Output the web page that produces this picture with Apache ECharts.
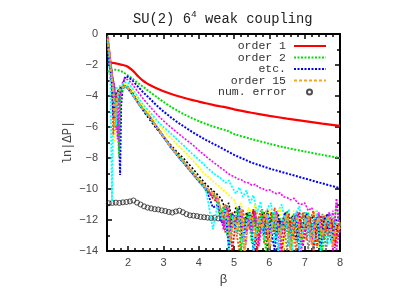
<!DOCTYPE html>
<html><head><meta charset="utf-8">
<script src="https://cdn.jsdelivr.net/npm/echarts@6/dist/echarts.min.js"></script>
<style>html,body{margin:0;padding:0;background:#fff}#c{width:415px;height:291px}</style>
</head><body><div id="c"></div>
<script>
// ---- x grids ----
const betaLow = [1.42,1.46,1.5,1.54,1.58,1.62,1.66,1.7,1.74,1.77,1.8,1.85,1.9,1.95,2.0,2.1,2.2,2.3,2.4,2.5,2.6,2.8,3.0,3.2,3.4,3.6,3.8,4.0,4.2,4.4];
const betaTail = [4.6,4.8,5.0,5.5,6.0,6.5,7.0,7.5,8.0];
const betaNoiseA = [4.5,4.6,4.7,4.8,4.9,5.0,5.1,5.2,5.3,5.4,5.5,5.6,5.7,5.8,5.9,6.0,6.1,6.2,6.3,6.4,6.5,6.6,6.7,6.8,6.9,7.0,7.1,7.2,7.3,7.4,7.5,7.6,7.7,7.8,7.9,8.0];
const betaNoiseB = [4.55,4.65,4.75,4.85,4.95,5.05,5.15,5.25,5.35,5.45,5.55,5.65,5.75,5.85,5.95,6.05,6.15,6.25,6.35,6.45,6.55,6.65,6.75,6.85,6.95,7.05,7.15,7.25,7.35,7.45,7.55,7.65,7.75,7.85,7.95];
const betaErr = [1.45,1.55,1.65,1.75,1.85,1.95,2.05,2.15,2.25,2.35,2.45,2.55,2.65,2.75,2.85,2.95,3.05,3.15,3.25,3.35,3.45,3.55,3.65,3.75,3.85,3.95,4.05,4.15,4.25,4.35,4.45,4.55,4.65,4.75,4.85,4.95,5.05,5.15,5.25,5.35,5.45,5.55,5.65,5.75,5.85,5.95,6.05,6.15,6.25,6.35,6.45,6.55,6.65,6.75,6.85,6.95,7.05,7.15,7.25,7.35,7.45,7.55,7.65,7.75,7.85,7.95];

// ---- tick values ----
const xMajor = [2,3,4,5,6,7,8];
const xMinor = [1.6,1.8,2.2,2.4,2.6,2.8,3.2,3.4,3.6,3.8,4.2,4.4,4.6,4.8,5.2,5.4,5.6,5.8,6.2,6.4,6.6,6.8,7.2,7.4,7.6,7.8];

// ---- ln|dP| per order ----
const ord1 = [-1.8,-1.83,-1.85,-1.86,-1.87,-1.88,-1.9,-1.92,-1.94,-1.96,-1.98,-2.0,-2.03,-2.07,-2.13,-2.3,-2.53,-2.77,-2.97,-3.14,-3.28,-3.5,-3.7,-3.86,-4.0,-4.13,-4.25,-4.36,-4.47,-4.57];
const ord1Tail = [-4.66,-4.75,-4.86,-5.08,-5.28,-5.46,-5.62,-5.78,-5.93];
const ord2 = [-2.45,-2.4,-2.36,-2.33,-2.31,-2.3,-2.3,-2.32,-2.35,-2.37,-2.4,-2.46,-2.53,-2.6,-2.68,-2.85,-3.02,-3.2,-3.37,-3.54,-3.72,-4.05,-4.38,-4.68,-4.95,-5.2,-5.42,-5.62,-5.8,-5.96];
const ord2Tail = [-6.1,-6.24,-6.45,-6.78,-7.08,-7.35,-7.58,-7.8,-8.0];
const ord3 = [-1.4,-1.9,-2.3,-2.7,-3.1,-3.6,-4.2,-5.0,-6.4,-9.1,-4.6,-3.3,-2.85,-2.72,-2.75,-2.95,-3.2,-3.45,-3.7,-3.92,-4.14,-4.6,-5.0,-5.36,-5.7,-6.0,-6.3,-6.57,-6.83,-7.07];
const ord3Tail = [-7.3,-7.55,-7.8,-8.3,-8.68,-9.0,-9.32,-9.64,-9.95];
const ord4 = [-0.8,-1.5,-2.0,-2.5,-3.0,-3.5,-4.1,-5.0,-7.5,-4.2,-3.5,-3.05,-2.9,-2.88,-2.95,-3.2,-3.5,-3.8,-4.1,-4.38,-4.65,-5.15,-5.6,-6.0,-6.38,-6.75,-7.1,-7.5,-7.9,-8.25];
const ord4Tail = [-8.42,-8.6,-8.75,-8.95,-9.1,-9.2,-9.35,-9.4,-9.55,-9.6,-9.75,-9.7,-9.9,-9.95,-10.1,-10.05,-10.2,-10.3,-10.25,-10.5,-10.55,-10.7,-10.6,-10.9,-11.0,-10.9,-11.4,-11.2,-12.0,-11.5,-13.2,-11.8,-12.5,-11.4,-14,-12.2];
const ord5 = [-0.5,-1.8,-3.5,-10.8,-4.2,-3.7,-3.5,-3.45,-3.4,-3.35,-3.3,-3.2,-3.12,-3.1,-3.15,-3.45,-3.8,-4.15,-4.5,-4.75,-5.0,-5.55,-6.0,-6.4,-6.85,-7.25,-7.7,-8.1,-8.55,-8.95];
const ord5Tail = [-9.2,-9.35,-9.6,-9.45,-9.9,-10.3,-9.9,-10.5,-10.1,-10.9,-10.4,-11.6,-10.8,-12.8,-11.2,-10.9,-13.5,-11.4,-11.0,-12.2,-11.3,-14,-11.6,-11.1,-12.9,-11.5,-11.8,-14,-11.4,-12.4,-11.7,-13.6,-11.6,-12.3,-11.9];
const ord6 = [-0.3,-1.2,-2.0,-2.8,-3.8,-7.0,-4.5,-3.9,-3.6,-3.45,-3.35,-3.25,-3.2,-3.22,-3.3,-3.6,-3.95,-4.3,-4.62,-4.9,-5.15,-5.7,-6.2,-6.7,-7.15,-7.6,-8.05,-8.6,-9.1,-9.5];
const ord6Tail = [-9.7,-9.85,-10.1,-10.3,-10.5,-10.7,-11.3,-10.9,-12.5,-11.2,-11.6,-11.0,-13.2,-11.4,-11.9,-11.3,-12.8,-11.6,-11.2,-14,-11.7,-12.1,-11.4,-13.0,-11.8,-11.5,-12.6,-11.9,-11.4,-13.8,-12.0,-11.6,-12.4,-11.8,-13.1,-12.1];
const ord7 = [-0.5,-1.4,-2.2,-3.0,-3.9,-4.8,-6.0,-4.6,-3.95,-3.7,-3.55,-3.4,-3.32,-3.32,-3.4,-3.72,-4.1,-4.48,-4.85,-5.2,-5.5,-6.1,-6.65,-7.15,-7.65,-8.1,-8.6,-9.15,-9.7,-10.1];
const ord7Tail = [-10.4,-10.7,-11.3,-10.9,-12.2,-11.2,-11.6,-13.4,-11.5,-11.9,-11.4,-12.6,-11.8,-11.5,-14,-11.9,-12.2,-11.6,-12.9,-11.8,-12.3,-11.7,-13.3,-12.0,-11.8,-12.5,-12.1,-11.7,-13.7,-12.2,-11.9,-12.6,-12.0,-12.9,-12.2];
const ord8 = [-0.2,-1.0,-2.0,-3.2,-6.5,-4.6,-4.0,-3.75,-3.6,-3.52,-3.46,-3.4,-3.38,-3.4,-3.48,-3.82,-4.17,-4.5,-4.8,-5.08,-5.33,-5.97,-6.62,-7.27,-7.82,-8.35,-8.9,-9.45,-9.95,-10.2];
const ord8Tail = [-10.6,-11.8,-11.0,-13.2,-11.5,-12.6,-14,-11.3,-12.9,-11.7,-14,-12.2,-11.4,-13.5,-11.9,-12.8,-11.2,-14,-12.4,-11.6,-13.1,-11.8,-14,-12.5,-11.5,-13.3,-12.0,-11.4,-13.8,-12.3,-11.7,-13.0,-11.9,-13.6,-12.2];
const ord9 = [-0.1,-0.9,-1.7,-2.5,-3.3,-4.2,-6.2,-4.4,-3.85,-3.65,-3.55,-3.45,-3.4,-3.41,-3.5,-3.85,-4.2,-4.53,-4.83,-5.1,-5.35,-6.0,-6.65,-7.3,-7.85,-8.4,-8.95,-9.5,-10.05,-10.5];
const ord9Tail = [-10.5,-11.2,-12.4,-11.0,-13.6,-11.7,-12.9,-11.3,-14,-11.9,-12.5,-11.4,-13.3,-12.1,-11.6,-14,-12.7,-11.5,-13.0,-11.8,-14,-12.3,-11.6,-13.4,-12.0,-11.5,-13.9,-12.2,-11.8,-13.1,-11.6,-14,-12.4,-11.9,-13.2,-12.3];
const ord10 = [-0.3,-1.1,-1.9,-2.7,-3.6,-5.6,-4.3,-3.85,-3.62,-3.52,-3.46,-3.4,-3.37,-3.39,-3.47,-3.8,-4.15,-4.48,-4.78,-5.05,-5.3,-5.95,-6.6,-7.25,-7.8,-8.33,-8.87,-9.4,-9.85,-10.6];
const ord10Tail = [-10.9,-11.5,-12.8,-11.2,-14,-12.0,-11.4,-13.1,-11.8,-12.6,-11.3,-14,-12.3,-11.7,-13.4,-11.5,-12.9,-11.9,-14,-12.4,-11.6,-13.2,-12.1,-11.5,-13.7,-12.2,-11.8,-14,-12.5,-11.7,-13.3,-12.0,-11.9,-13.8,-12.4];
const ord11 = [-0.4,-1.2,-2.0,-2.7,-3.3,-3.9,-4.6,-5.6,-7.9,-4.6,-3.9,-3.55,-3.42,-3.4,-3.46,-3.78,-4.12,-4.45,-4.75,-5.02,-5.28,-5.93,-6.58,-7.23,-7.78,-8.3,-8.83,-9.38,-10.1,-10.3];
const ord11Tail = [-10.7,-11.9,-11.1,-13.0,-11.6,-12.4,-11.2,-14,-12.0,-11.5,-13.5,-11.8,-12.7,-11.3,-14,-12.2,-11.6,-13.2,-11.9,-12.6,-11.4,-14,-12.3,-11.7,-13.6,-12.0,-11.5,-13.0,-12.4,-11.6,-14,-12.1,-11.7,-13.3,-10.9,-12.5];
const ord12 = [-0.6,-1.5,-2.4,-3.3,-5.4,-4.2,-3.85,-3.68,-3.57,-3.5,-3.45,-3.4,-3.38,-3.4,-3.48,-3.83,-4.18,-4.52,-4.82,-5.1,-5.35,-6.0,-6.65,-7.3,-7.87,-8.4,-8.95,-9.5,-9.95,-11.2];
const ord12Tail = [-11.0,-12.2,-11.3,-13.8,-11.6,-12.5,-11.1,-13.3,-12.0,-11.5,-14,-12.6,-11.8,-13.0,-11.4,-12.7,-14,-11.9,-12.3,-11.5,-13.6,-12.1,-11.7,-14,-12.4,-11.6,-13.1,-12.2,-11.8,-13.9,-12.0,-11.6,-13.4,-12.3,-11.8];
const ord13 = [-0.2,-1.0,-1.8,-2.6,-3.3,-4.0,-4.7,-6.8,-4.4,-3.9,-3.65,-3.48,-3.4,-3.4,-3.47,-3.8,-4.16,-4.49,-4.79,-5.07,-5.32,-5.97,-6.62,-7.27,-7.83,-8.35,-8.9,-9.45,-10.0,-10.4];
const ord13Tail = [-10.6,-11.4,-12.6,-11.2,-13.1,-11.8,-12.2,-11.3,-14,-11.9,-12.8,-11.5,-13.7,-12.1,-11.6,-13.0,-12.4,-11.4,-14,-12.0,-11.7,-13.3,-12.2,-11.5,-14,-12.5,-11.8,-13.5,-12.1,-11.6,-13.2,-12.3,-11.5,-14,-10.6,-12.9];
const ord14 = [-0.5,-1.3,-2.1,-2.9,-3.7,-4.5,-5.9,-4.3,-3.8,-3.62,-3.52,-3.44,-3.39,-3.4,-3.48,-3.82,-4.18,-4.51,-4.81,-5.08,-5.34,-5.99,-6.64,-7.29,-7.85,-8.38,-8.92,-9.48,-10.0,-12.6];
const ord14Tail = [-10.8,-12.0,-11.2,-14,-11.7,-12.8,-11.3,-13.4,-12.1,-11.5,-14,-12.4,-11.8,-13.2,-11.6,-12.9,-11.4,-14,-12.2,-11.7,-13.6,-12.0,-11.5,-14,-12.6,-11.9,-13.3,-12.1,-11.6,-14,-12.3,-11.8,-13.5,-12.2,-11.9];
const ord15 = [-0.3,-1.1,-2.0,-2.9,-3.8,-6.0,-4.4,-3.9,-3.66,-3.55,-3.48,-3.41,-3.38,-3.39,-3.46,-3.8,-4.15,-4.48,-4.78,-5.06,-5.31,-5.96,-6.61,-7.26,-7.81,-8.33,-8.88,-9.42,-9.9,-10.3];
const ord15Tail = [-10.5,-11.1,-12.0,-11.5,-13.4,-11.8,-12.7,-11.3,-14,-12.2,-11.6,-13.1,-11.9,-12.5,-11.4,-13.8,-12.1,-11.7,-13.0,-12.4,-11.6,-14,-12.2,-11.8,-13.3,-12.0,-11.7,-13.6,-12.3,-11.9,-13.0,-12.1,-11.8,-13.7,-12.2,-12.6];
const numError = [-10.92,-10.9,-10.88,-10.9,-10.86,-10.84,-10.8,-10.74,-10.88,-11.0,-11.12,-11.2,-11.25,-11.3,-11.32,-11.38,-11.42,-11.48,-11.52,-11.45,-11.4,-11.5,-11.62,-11.7,-11.72,-11.75,-11.8,-11.82,-11.85,-11.88,-11.86,-11.9,-11.93,-11.95,-11.92,-11.98,-12.0,-11.97,-12.05,-12.02,-12.08,-12.1,-12.05,-12.1,-12.15,-12.12,-12.18,-12.15,-12.2,-12.22,-12.25,-12.2,-12.27,-12.3,-12.28,-12.32,-12.3,-12.35,-12.38,-12.33,-12.4,-12.42,-12.38,-12.45,-12.43,-12.48];

function pairs(xs, ys) { return xs.map((x, i) => [x, ys[i]]); }
function join(lowY, tailX, tailY) { return pairs(betaLow, lowY).concat(pairs(tailX, tailY)); }

const RED='#ff0000', GRN='#00e000', BLU='#0000ff', MAG='#ff00ff', CYN='#00ffff', YEL='#ffff00', BLK='#000000', ORR='#ff4d00', GRY='#808080', ORG='#f5a623';
const specs = [
  ['order 1', RED, join(ord1, betaTail, ord1Tail), 'solid', 2.2, 0.3],
  ['order 2', GRN, join(ord2, betaTail, ord2Tail), [2,1.5], 2, 0.3],
  ['etc.', BLU, join(ord3, betaTail, ord3Tail), [2,1.5], 2, false],
  ['order 4', MAG, join(ord4, betaNoiseA, ord4Tail), [2,1.5], 1.6, false],
  ['order 5', CYN, join(ord5, betaNoiseB, ord5Tail), [2,1.5], 1.8, false],
  ['order 6', YEL, join(ord6, betaNoiseA, ord6Tail), [2,1.5], 1.8, false],
  ['order 7', BLK, join(ord7, betaNoiseB, ord7Tail), [2,2], 1.6, false],
  ['order 8', ORR, join(ord8, betaNoiseB, ord8Tail), [2,1.5], 1.8, false],
  ['order 9', GRY, join(ord9, betaNoiseA, ord9Tail), [2,1.5], 1.8, false],
  ['order 10', RED, join(ord10, betaNoiseB, ord10Tail), [2,1.5], 1.8, false],
  ['order 11', GRN, join(ord11, betaNoiseA, ord11Tail), [2,1.5], 1.8, false],
  ['order 12', BLU, join(ord12, betaNoiseB, ord12Tail), [2,1.5], 1.8, false],
  ['order 13', MAG, join(ord13, betaNoiseA, ord13Tail), [2,1.5], 1.8, false],
  ['order 14', CYN, join(ord14, betaNoiseB, ord14Tail), [2,1.5], 1.8, false],
  ['order 15', ORG, join(ord15, betaNoiseA, ord15Tail), [3,2], 2, false]
];

const series = specs.map(s => ({
  name: s[0], type: 'line', data: s[2], showSymbol: false, symbol: 'none', smooth: s[5],
  lineStyle: { color: s[1], type: s[3], width: s[4] }, itemStyle: { color: s[1] },
  clip: true, silent: true
}));
series.push({
  name: 'num. error', type: 'scatter', data: pairs(betaErr, numError), symbol: 'circle', symbolSize: 5,
  itemStyle: { color: 'rgba(255,255,255,0)', borderColor: '#222', borderWidth: 1 }, silent: true
});

const monoFont = 'Liberation Mono';
const sansFont = 'Liberation Sans';
const axisLineStyle = { color: '#000', width: 2 };

function legend(item, top, right, w, h, textPadRight, hideSymbol) {
  const l = {
    data: [item], right: right, top: top, orient: 'vertical', align: 'right', padding: 0,
    itemWidth: w, itemHeight: h, itemGap: 0, selectedMode: false,
    textStyle: { fontFamily: monoFont, fontSize: 11.5, color: '#333', padding: [0, textPadRight, 0, 0] }
  };
  if (hideSymbol) l.itemStyle = { opacity: 0 };
  return l;
}

const chart = echarts.init(document.getElementById('c'), null, { renderer: 'canvas' });
chart.setOption({
  animation: false,
  backgroundColor: '#fff',
  title: {
    text: '{a|SU(2) 6}{s|4}{a| weak coupling}', left: 133, top: 9, padding: 0,
    textStyle: {
      fontWeight: 'normal',
      rich: {
        a: { fontFamily: monoFont, fontSize: 13.8, fontWeight: 'normal', color: '#222', lineHeight: 20 },
        s: { fontFamily: monoFont, fontSize: 9.5, fontWeight: 'normal', color: '#222', lineHeight: 12, verticalAlign: 'top' }
      }
    }
  },
  legend: [
    legend('order 1', 40, 88, 32, 10, 3, true),
    legend('order 2', 51.5, 88, 32, 10, 3, true),
    legend('etc.', 63, 88, 32, 10, 3, true),
    legend('order 15', 74.5, 88, 32, 10, 3, true),
    legend({ name: 'num. error', icon: 'circle' }, 86, 102, 5, 5, 15, false)
  ],
  grid: { left: 107, right: 75, top: 34, bottom: 35 },
  xAxis: [
    { type: 'value', min: 1.4, max: 8, position: 'bottom',
      axisLine: { show: true, onZero: false, lineStyle: axisLineStyle },
      axisTick: { show: true, inside: true, length: 5, customValues: xMajor, lineStyle: { color: '#000', width: 1.5 } },
      axisLabel: { show: true, customValues: xMajor, margin: 6, fontFamily: sansFont, fontSize: 11, color: '#444' },
      splitLine: { show: false },
      name: 'β', nameLocation: 'middle', nameGap: 22, nameMoveOverlap: false,
      nameTextStyle: { fontFamily: sansFont, fontSize: 13, color: '#444' } },
    { type: 'value', min: 1.4, max: 8, position: 'bottom',
      axisLine: { show: false, onZero: false },
      axisTick: { show: true, inside: true, length: 3, customValues: xMinor, lineStyle: { color: '#000', width: 1.5 } },
      axisLabel: { show: false }, splitLine: { show: false } },
    { type: 'value', min: 1.4, max: 8, position: 'top',
      axisLine: { show: true, onZero: false, lineStyle: axisLineStyle },
      axisTick: { show: true, inside: true, length: 5, customValues: xMajor, lineStyle: { color: '#000', width: 1.5 } },
      axisLabel: { show: false }, splitLine: { show: false } },
    { type: 'value', min: 1.4, max: 8, position: 'top',
      axisLine: { show: false, onZero: false },
      axisTick: { show: true, inside: true, length: 3, customValues: xMinor, lineStyle: { color: '#000', width: 1.5 } },
      axisLabel: { show: false }, splitLine: { show: false } }
  ],
  yAxis: [
    { type: 'value', min: -14, max: 0, interval: 2, position: 'left',
      axisLine: { show: true, onZero: false, lineStyle: axisLineStyle },
      axisTick: { show: true, inside: true, length: 5, lineStyle: { color: '#000', width: 1.5 } },
      minorTick: { show: true, splitNumber: 2, length: 3, lineStyle: { color: '#000', width: 1.5 } },
      axisLabel: { margin: 9, fontFamily: sansFont, fontSize: 11, color: '#444', formatter: v => String(v).replace('-', '\u2212') },
      splitLine: { show: false },
      name: 'ln|ΔP|', nameLocation: 'middle', nameRotate: 90, nameGap: 33, nameMoveOverlap: false,
      nameTextStyle: { fontFamily: monoFont, fontSize: 12, color: '#444' } },
    { type: 'value', min: -14, max: 0, interval: 2, position: 'right',
      axisLine: { show: true, onZero: false, lineStyle: axisLineStyle },
      axisTick: { show: true, inside: true, length: 5, lineStyle: { color: '#000', width: 1.5 } },
      minorTick: { show: true, splitNumber: 2, length: 3, lineStyle: { color: '#000', width: 1.5 } },
      axisLabel: { show: false }, splitLine: { show: false } }
  ],
  series: series
});
</script></body></html>
